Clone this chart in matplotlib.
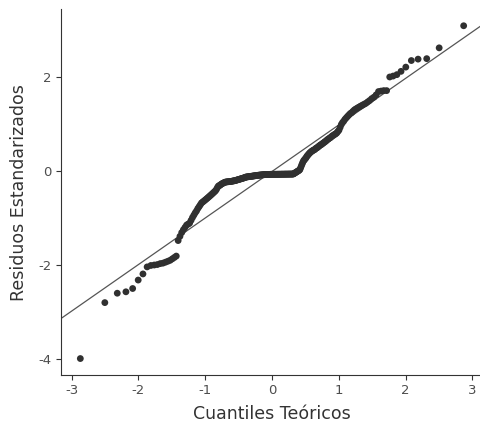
import matplotlib
matplotlib.use("Agg")
import matplotlib.pyplot as plt
import numpy as np
from statistics import NormalDist

# Sorted standardized residuals
residuos = [
    -3.98, -2.79, -2.59, -2.56, -2.49, -2.31, -2.18, -2.03, -2.00, -1.99,
    -1.98, -1.96, -1.95, -1.93, -1.91, -1.89, -1.86, -1.83, -1.80, -1.47,
    -1.38, -1.30, -1.24, -1.19, -1.14, -1.12, -1.10, -1.04, -0.98, -0.93,
    -0.88, -0.84, -0.79, -0.75, -0.71, -0.67, -0.65, -0.63, -0.61, -0.59,
    -0.57, -0.55, -0.53, -0.51, -0.49, -0.47, -0.45, -0.43, -0.41, -0.38,
    -0.34, -0.31, -0.30, -0.29, -0.27, -0.26, -0.25, -0.24, -0.23, -0.225,
    -0.222, -0.22, -0.218, -0.216, -0.214, -0.212, -0.21, -0.205, -0.20, -0.20,
    -0.195, -0.19, -0.185, -0.18, -0.175, -0.17, -0.165, -0.16, -0.155, -0.15,
    -0.145, -0.14, -0.135, -0.13, -0.12, -0.118, -0.116, -0.113, -0.111, -0.109,
    -0.107, -0.104, -0.102, -0.10, -0.098, -0.095, -0.093, -0.091, -0.089, -0.087,
    -0.085, -0.082, -0.08, -0.078, -0.077, -0.075, -0.074, -0.072, -0.071, -0.07,
    -0.068, -0.067, -0.065, -0.064, -0.064, -0.063, -0.063, -0.062, -0.062, -0.061,
    -0.061, -0.06, -0.06, -0.06, -0.06, -0.06, -0.06, -0.06, -0.06, -0.06,
    -0.059, -0.059, -0.059, -0.059, -0.059, -0.058, -0.058, -0.058, -0.058, -0.058,
    -0.057, -0.057, -0.057, -0.057, -0.057, -0.056, -0.056, -0.056, -0.056, -0.055,
    -0.055, -0.055, -0.055, -0.045, -0.035, -0.025, -0.015, -0.005, 0.005, 0.015,
    0.025, 0.04, 0.08, 0.12, 0.16, 0.20, 0.23, 0.25, 0.27, 0.29,
    0.32, 0.34, 0.36, 0.38, 0.40, 0.41, 0.43, 0.44, 0.45, 0.46,
    0.47, 0.49, 0.50, 0.51, 0.53, 0.54, 0.56, 0.57, 0.58, 0.60,
    0.61, 0.63, 0.64, 0.66, 0.68, 0.69, 0.71, 0.72, 0.74, 0.76,
    0.77, 0.79, 0.80, 0.82, 0.85, 0.88, 0.94, 1.00, 1.04, 1.07,
    1.11, 1.14, 1.17, 1.20, 1.23, 1.25, 1.28, 1.31, 1.33, 1.35,
    1.37, 1.39, 1.41, 1.43, 1.45, 1.48, 1.51, 1.55, 1.58, 1.63,
    1.70, 1.71, 1.72, 1.72, 2.01, 2.03, 2.06, 2.13, 2.22, 2.36,
    2.39, 2.40, 2.63, 3.10,
]

# Reference line
linea_pendiente = 0.99
linea_intercepto = 0.0

x_ticks = [-3, -2, -1, 0, 1, 2, 3]
y_ticks = [-4, -2, 0, 2]
x_label = "Cuantiles Teóricos"
y_label = "Residuos Estandarizados"

n = len(residuos)
nd = NormalDist()
teoricos = np.array([nd.inv_cdf((i + 0.5) / n) for i in range(n)])
muestra = np.array(residuos)

fig = plt.figure(figsize=(4.8, 4.26), dpi=100)
ax = fig.add_axes([61 / 480, 51 / 426, 422 / 480, 365.7 / 426])

ax.set_xlim(-3.16, 3.16)
ax.set_ylim(-4.33, 3.45)

ax.axline((0, linea_intercepto), slope=linea_pendiente, color="#555555", lw=0.9, zorder=2)
ax.scatter(teoricos, muestra, s=24, color="#303030", edgecolors="none", zorder=3)

ax.set_xticks(x_ticks)
ax.set_yticks(y_ticks)
ax.set_xticklabels([str(t) for t in x_ticks])
ax.set_yticklabels([str(t) for t in y_ticks])

for s in ["top", "right"]:
    ax.spines[s].set_visible(False)
for s in ["left", "bottom"]:
    ax.spines[s].set_color("#333333")
    ax.spines[s].set_linewidth(0.8)

ax.tick_params(axis="both", colors="#333333", length=3.5, width=0.8,
               labelsize=9.5, labelcolor="#4d4d4d", pad=3)

ax.set_xlabel(x_label, fontsize=12.5, color="#333333", labelpad=6)
ax.set_ylabel(y_label, fontsize=12.5, color="#333333", labelpad=8)

fig.savefig("out.png", dpi=100)
